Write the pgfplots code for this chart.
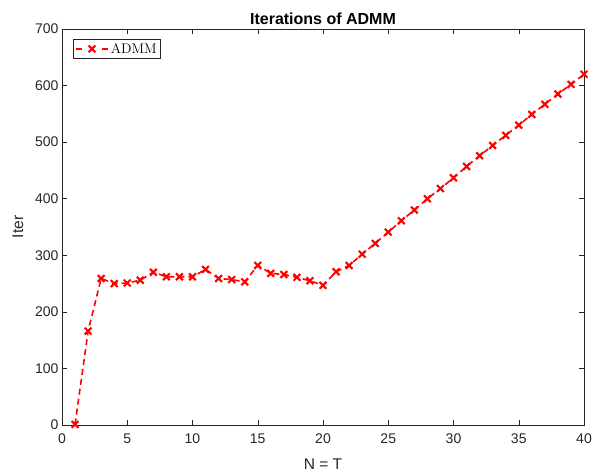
\documentclass[border=0pt]{standalone}
\usepackage{pgfplots}
\pgfplotsset{compat=1.18}
\usepackage{fontspec}
\setsansfont{Liberation Sans}
\definecolor{axgray}{rgb}{0.15,0.15,0.15}
\begin{document}
\begin{tikzpicture}
\begin{axis}[
  name=ax,
  scale only axis,
  width=522pt, height=396pt,
  xmin=0, xmax=40, ymin=0, ymax=700,
  xtick={0,5,...,40}, ytick={0,100,...,700},
  tick align=inside,
  major tick length=5pt,
  axis line style={axgray, line width=0.5pt},
  tick style={axgray, line width=0.5pt},
  every tick label/.append style={font=\fontsize{14}{16}\selectfont\sffamily, text=axgray},
  xticklabel style={yshift=-5pt},
  yticklabel style={xshift=0pt},
  /pgf/number format/assume math mode=true,
  title={\fontsize{16}{18}\selectfont\sffamily\bfseries Iterations of ADMM},
  title style={yshift=-5pt},
  xlabel={\fontsize{15.5}{18}\selectfont\sffamily N = T},
  ylabel={\fontsize{15.5}{18}\selectfont\sffamily Iter},
  xlabel style={text=axgray, yshift=-9pt},
  ylabel style={text=axgray, yshift=5pt},
  legend style={font=\fontsize{14}{16}\selectfont\rmfamily, draw=axgray, line width=0.5pt,
    at={(0.021,0.975)}, anchor=north west, inner sep=2pt, row sep=0pt},
  legend cell align=left,
  legend image code/.code={
    \draw[dash pattern=on 6pt off 20pt] (0pt,0pt) -- (32pt,0pt);
    \draw[mark repeat=2, mark phase=2, draw=none] plot coordinates {(0pt,0pt)(16pt,0pt)(32pt,0pt)};
  },
]
\addplot[red, line width=1.6pt, dash pattern=on 6pt off 4pt,
  mark=x, mark size=4.8pt, mark options={solid, line width=2.1pt, draw=red}]
coordinates {
(1,1)(2,166)(3,259)(4,250)(5,251)(6,256)(7,270)(8,262)(9,262)(10,262)
(11,275)(12,259)(13,257)(14,253)(15,282)(16,268)(17,266)(18,261)(19,255)(20,247)
(21,271)(22,282)(23,302)(24,321)(25,341)(26,361)(27,380)(28,400)(29,418)(30,437)
(31,457)(32,476)(33,494)(34,512)(35,530)(36,549)(37,567)(38,585)(39,602)(40,620)
};
\addlegendentry{ADMM}
\end{axis}
\pgfresetboundingbox
\path ([shift={(-62pt,-48pt)}]ax.south west) rectangle ([shift={(15pt,29pt)}]ax.north east);
\end{tikzpicture}
\end{document}
